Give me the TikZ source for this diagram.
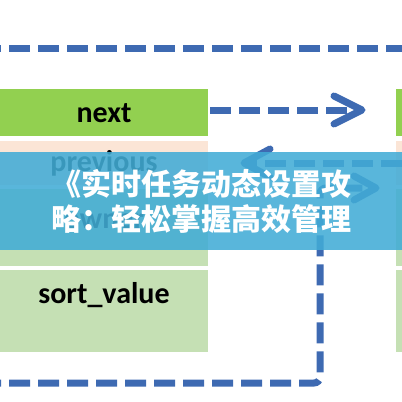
\documentclass[tikz,border=0pt]{standalone}
\usepackage{fontspec}
\setmainfont{Carlito}
\newfontfamily\cjk{Noto Sans CJK SC}
\usepackage{tikz}
\usetikzlibrary{positioning}
\definecolor{nextgreen}{RGB}{146,208,80}
\definecolor{prevpeach}{RGB}{251,229,214}
\definecolor{fieldgreen}{RGB}{197,224,180}
\definecolor{linkblue}{RGB}{62,106,178}
\definecolor{bannerblue}{RGB}{66,172,214}

\begin{document}
\begin{tikzpicture}[x=1pt, y=-1pt,
  field/.style={inner sep=0pt, anchor=north west, minimum width=208pt},
  sidefield/.style={inner sep=0pt, anchor=north west, minimum width=8pt},
  fieldname/.style={inner sep=0pt, font=\bfseries\fontsize{30}{30}\selectfont},
  link/.style={draw=linkblue, line width=7pt, dash pattern=on 21pt off 8pt},
  head/.style={draw=linkblue, line width=7pt, line cap=round, line join=round}]
\useasboundingbox (0,0) rectangle (402,402);
%
% list item on the left
\node[field, fill=nextgreen,  minimum height=47pt] (next)  at (0,89)  {};
\node[field, fill=prevpeach,  minimum height=44pt] (prev)  at (0,141) {};
\node[field, fill=fieldgreen, minimum height=77pt] (owner) at (0,189) {};
\node[field, fill=fieldgreen, minimum height=82pt] (sort)  at (0,270) {};
\node[fieldname] (nextlbl)  at (104,113) {next};
\node[fieldname] (prevlbl)  at (104,163) {previous};
\node[fieldname] (ownerlbl) at (104,221) {owner};
\node[fieldname] (sortlbl)  at (104,295) {sort\_value};
%
% list item on the right (cut by the edge)
\node[sidefield, fill=nextgreen,  minimum height=47pt] (next2)  at (396,89)  {};
\node[sidefield, fill=prevpeach,  minimum height=44pt] (prev2)  at (396,141) {};
\node[sidefield, fill=fieldgreen, minimum height=77pt] (owner2) at (396,189) {};
\node[sidefield, fill=fieldgreen, minimum height=82pt] (sort2)  at (396,270) {};
%
% links
\coordinate (topl) at (0,48);
\coordinate (topr) at (402,48);
\draw[link, dash phase=20pt] (topl) -- (topr);

\coordinate (nexttip) at (362,110);
\draw[link] (next.east |- nexttip) ++(2,0) -- ([xshift=-8pt]nexttip);
\draw[head] (nexttip) ++(-28,-14) -- (nexttip) -- +(-28,14);

\coordinate (prevtip) at (244,163);
\draw[link] (prev2.west |- prevtip) ++(6,0) -- ([xshift=8pt]prevtip);
\draw[head] (prevtip) ++(26,-14) -- (prevtip) -- +(26,14);

\coordinate (botl) at (0,383);
\coordinate (corner) at (320,383);
\coordinate (backtip) at (376,188);
\draw[link, rounded corners=6pt, dash phase=20pt] (botl) -- (corner) -- (corner |- backtip) -- ([xshift=-8pt]backtip);
\draw[head] (backtip) ++(-22,-12) -- (backtip) -- +(-22,12);
%
% title banner
\node[fill=bannerblue, fill opacity=0.88, text opacity=1, text=white,
      anchor=north west, minimum width=402pt, minimum height=98pt, inner sep=0pt,
      font=\cjk\bfseries\fontsize{30}{35}\selectfont, align=center] (banner) at (0,152)
  {《实时任务动态设置攻\\略：轻松掌握高效管理};
%
\end{tikzpicture}
\end{document}
